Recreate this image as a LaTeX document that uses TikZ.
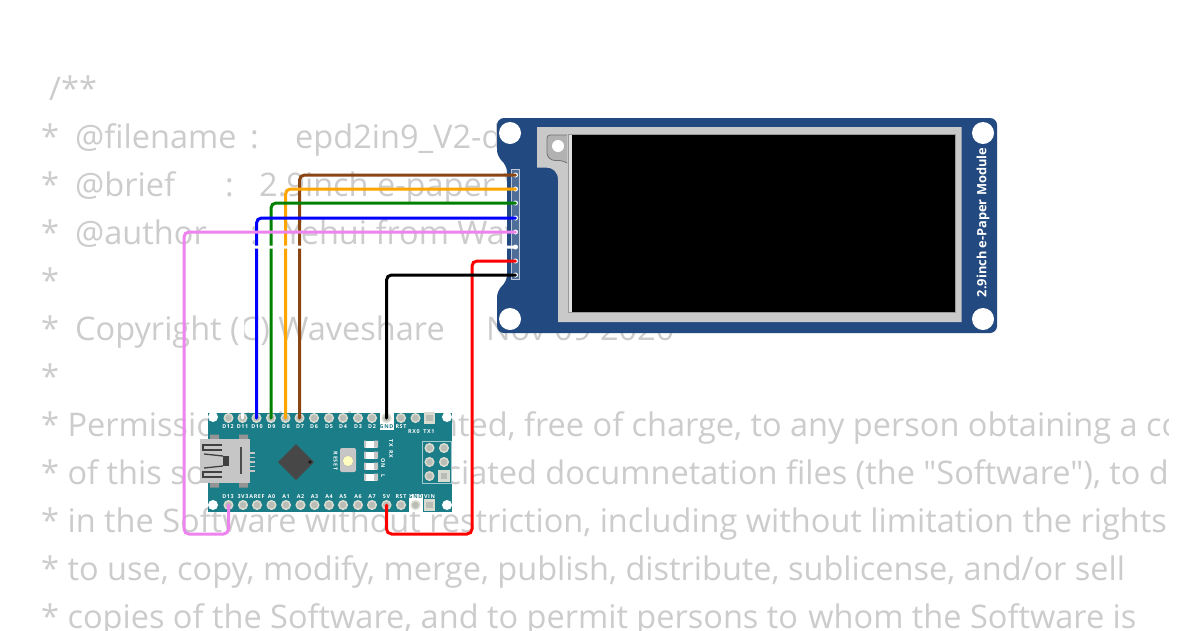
\documentclass[tikz,border=0pt]{standalone}
\usepackage{fontspec}
\newfontfamily\bgfont{Open Sans}
\newfontfamily\pinfont{Open Sans}[LetterSpace=12]
\usetikzlibrary{calc}
\definecolor{bgtext}{HTML}{CCCCCC}
\definecolor{epdblue}{HTML}{224A80}
\definecolor{nanoteal}{HTML}{1A7D87}
\definecolor{bezel}{HTML}{C9C9C9}
\definecolor{pinpale}{HTML}{DADBD0}
\definecolor{pingrey}{HTML}{B9BDB5}
\definecolor{usbgrey}{HTML}{C6C6C6}
\definecolor{wbrown}{HTML}{8B4513}
\definecolor{worange}{HTML}{FFA500}
\definecolor{wgreen}{HTML}{008000}
\definecolor{wblue}{HTML}{0000FF}
\definecolor{wpink}{HTML}{EE82EE}
\definecolor{wred}{HTML}{FF0000}
\tikzset{
  bgt/.style={anchor=base west,inner sep=0pt,text=bgtext,font=\bgfont\fontsize{32.5}{33}\selectfont},
  pinlabel/.style={inner sep=0pt,text=white,font=\pinfont\bfseries\fontsize{5.4}{6}\selectfont},
  hole/.style={circle,fill=white,draw=none,inner sep=0pt,minimum size=#1},
  wire/.style={line width=3pt,rounded corners=5pt,line cap=round},
  epdpin/.style={circle,fill=white,inner sep=0pt,minimum size=5pt},
  nanopin/.style={circle,fill=pingrey,draw=pinpale,line width=1.5pt,inner sep=0pt,minimum size=8.5pt},
  nanosq/.style={rectangle,fill=pingrey,draw=pinpale,line width=2.5pt,inner sep=0pt,minimum size=9pt},
  led/.style={rectangle,fill=white,draw=none,inner sep=0pt,minimum width=12pt,minimum height=7pt},
}
\begin{document}
\begin{tikzpicture}[x=1pt,y=-1pt]
\useasboundingbox (0,0) rectangle (1200,630);
\fill[white] (0,0) rectangle (1200,630);
% background source text
\begin{scope}
\clip (0,0) rectangle (1168,630);
\node[bgt] (l1) at (49,100) {/**};
\node[bgt] (l2a) at (41,148) {*};
\node[bgt] (l2b) at (75,148) {@filename};
\node[bgt] (l2c) at (250,148) {:};
\node[bgt] (l2d) at (295,148) {epd2in9\_V2-demo.ino};
\node[bgt] (l3a) at (41,196) {*};
\node[bgt] (l3b) at (75,196) {@brief};
\node[bgt] (l3c) at (225,196) {:};
\node[bgt] (l3d) at (259,196) {2.9inch e-paper V2};
\node[bgt] (l4a) at (41,244) {*};
\node[bgt] (l4b) at (75,244) {@author};
\node[bgt] (l4c) at (250,244) {:};
\node[bgt] (l4d) at (284,244) {Yehui from Waveshare};
\node[bgt] (l5) at (41,292) {*};
\node[bgt] (l6a) at (41,340) {*};
\node[bgt] (l6b) at (75,340) {Copyright (C) Waveshare};
\node[bgt] (l6c) at (486,340) {Nov 09 2020};
\node[bgt] (l7) at (41,388) {*};
\node[bgt] (l8) at (41,436) {* Permission is hereby granted, free of charge, to any person obtaining a copy};
\node[bgt] (l9) at (41,484) {* of this software and associated documnetation files (the "Software"), to deal};
\node[bgt] (l10) at (41,532) {* in the Software without restriction, including without limitation the rights};
\node[bgt] (l11) at (41,580) {* to use, copy, modify, merge, publish, distribute, sublicense, and/or sell};
\node[bgt] (l12) at (41,628) {* copies of the Software, and to permit persons to\hspace{2pt} whom the Software is};
\end{scope}
% e-paper board
\fill[epdblue,rounded corners=7pt] (497,118) -- (997,118) -- (997,333) -- (497,333) -- (497,290) -- (507,282) -- (507,165) -- (497,157) -- cycle;
\fill[bezel] (537,127) -- (961.5,127) -- (961.5,322) -- (558,322) -- (558,180) .. controls (558,172) and (553,167.5) .. (546,167.5) -- (537,167.5) -- cycle;
\draw[black!55,line width=.8pt,fill=black!30,rounded corners=3pt] (567,135) -- (547,135) -- (547,156) -- (552,160.5) -- (562,160.5) -- (567,163);
\fill[black!30] (554,136) rectangle (567,159);
\draw[black!40,line width=.8pt] (568,134) -- (568,312.5) -- (955.3,312.5) -- (955.3,134) -- cycle;
\fill[black!12] (568.5,134.5) rectangle (571.5,312);
\fill[black] (571.5,135) rectangle (954.5,312);
\node[hole=12pt] (tabhole) at (558,146) {};
\node[hole=22pt] (h1) at (510,133) {};
\node[hole=22pt] (h2) at (983,133) {};
\node[hole=22pt] (h3) at (510,319) {};
\node[hole=22pt] (h4) at (983,319) {};
\node[rotate=90,inner sep=0pt,text=white,font=\bgfont\bfseries\fontsize{12.8}{13}\selectfont] (epdtitle) at (983,222.5) {2.9inch e-Paper Module};
\draw[white!70!epdblue,line width=.8pt,fill=epdblue!80!white] (511.7,169) rectangle (519.3,279);
\foreach \n/\y in {1/175,2/189,3/203,4/218,5/232,6/247,7/261,8/275}{
  \node[epdpin] (e\n) at (515.5,\y) {};
}
% arduino nano
\fill[nanoteal] (208,412.5) rectangle (452,512);
\foreach \n/\x/\y in {a/213/417,b/447/417,c/213/505,d/447/505}{
  \node[hole=10pt] (nh\n) at (\x,\y) {};
}
\fill[white] (379.5,412.5) rectangle (393.5,430);
\fill[white] (408.5,494) rectangle (422.5,512);
\foreach \n/\x in {D12/228.5,D11/242.5,D10/256.5,D9/271,D8/285.5,D7/299.5,D6/314,D5/329,D4/343,D3/358,D2/372,GND/386.5,RST/401,RX0/415.5}{
  \node[nanopin] (t\n) at (\x,418) {};
}
\node[nanosq] (tTX1) at (429.5,418) {};
\foreach \n/\x in {D13/228.5,3V3/243,AREF/257,A0/271.5,A1/286,A2/300.5,A3/314.5,A4/329,A5/343,A6/358,A7/372,5V/386.5,RST/401,GND/415.5}{
  \node[nanopin] (b\n) at (\x,505) {};
}
\node[nanosq] (bVIN) at (429.5,505) {};
\foreach \n/\x in {D12/228,D11/242.5,D10/257,D9/271.5,D8/286,D7/300,D6/314,D5/329,D4/343,D3/358,D2/372,RST/401}{
  \node[pinlabel] (tl\n) at (\x,427) {\n};
}
\node[pinlabel,text=nanoteal] (tlGND) at (386.5,427) {GND};
\node[pinlabel] (tlRX) at (414,432) {RX0};
\node[pinlabel] (tlTX) at (429,432) {TX1};
\foreach \n/\x in {D13/228,3V3/243,AREF/257,A0/271.5,A1/286,A2/300.5,A3/314.5,A4/329,A5/343,A6/358,A7/372,5V/386.5,RST/401,VIN/429.5}{
  \node[pinlabel] (bl\n) at (\x,497) {\n};
}
\node[pinlabel,text=nanoteal] (blGND) at (415.5,497) {GND};
% USB connector
\fill[usbgrey!75!black] (210,434.5) rectangle (219,440) (239,434.5) rectangle (248,440) (210,482) rectangle (219,487.5) (239,482) rectangle (248,487.5);
\foreach \y in {453,457.5,462,466.5,471}{\draw[usbgrey,line width=1.6pt] (249,\y) -- (254.5,\y);}
\fill[usbgrey] (200,439) rectangle (249.5,482.5);
\draw[black!75,line width=1.3pt] (222,445) -- (203,445) -- (203,450) -- (222,450);
\draw[black!75,line width=1.3pt] (204,454) -- (223,456);
\draw[black!75,line width=1.3pt] (204,468) -- (223,466);
\draw[black!75,line width=1.3pt] (222,477) -- (203,477) -- (203,472) -- (222,472);
\fill[black!75] (222.5,456) -- (229,456) -- (229,466) -- (222.5,466) -- cycle;
\draw[black!70,line width=1.4pt] (241,447) -- (241,474);
% chip
\fill[black!72] (296,444) -- (314,462) -- (296,480) -- (278,462) -- cycle;
\fill[black!90] (310,462) circle (1.8pt);
% reset button
\fill[usbgrey,rounded corners=2pt] (340,448) rectangle (356,472);
\fill[yellow!25!white,draw=gray!60] (348,461) circle (5.5pt);
\node[pinlabel,rotate=-90] (resetl) at (335.5,461) {RESET};
% LEDs
\foreach \n/\y in {a/444,b/455,c/466,d/477}{
  \node[led] (led\n) at (371,\y) {};
  \fill[usbgrey] (374,\y-3.5) rectangle (378,\y+3.5) (364,\y-3.5) rectangle (366,\y+3.5);
}
\node[pinlabel,rotate=-90] (ltx) at (391,443) {TX};
\node[pinlabel,rotate=-90] (lrx) at (391,454.5) {RX};
\node[pinlabel,rotate=-90] (lon) at (383,463) {ON};
\node[pinlabel,rotate=-90] (ll) at (383,476) {L};
% ICSP header
\draw[white!60!nanoteal,line width=.7pt] (422,441) rectangle (451,483);
\foreach \n/\x/\y in {a/429.5/448,b/444/448,c/429.5/462,d/444/462,e/429.5/476}{
  \node[nanopin] (ic\n) at (\x,\y) {};
}
\node[nanosq] (icf) at (444,476) {};
% wires
\draw[wire,wbrown] (tD7.center) |- (e1.center);
\draw[wire,worange] (tD8.center) |- (e2.center);
\draw[wire,wgreen] (tD9.center) |- (e3.center);
\draw[wire,wblue] (tD10.center) |- (e4.center);
\coordinate (pk1) at (228.5,534);
\coordinate (pk2) at (184,534);
\draw[wire,wpink] (bD13.center) -- (pk1) -- (pk2) |- (e5.center);
\draw[wire,white] (tD11.center) |- (e6.center);
\coordinate (rd1) at (386.5,534);
\coordinate (rd2) at (472,534);
\draw[wire,wred] (b5V.center) -- (rd1) -- (rd2) |- (e7.center);
\draw[wire,black] (tGND.center) |- (e8.center);
\end{tikzpicture}
\end{document}
